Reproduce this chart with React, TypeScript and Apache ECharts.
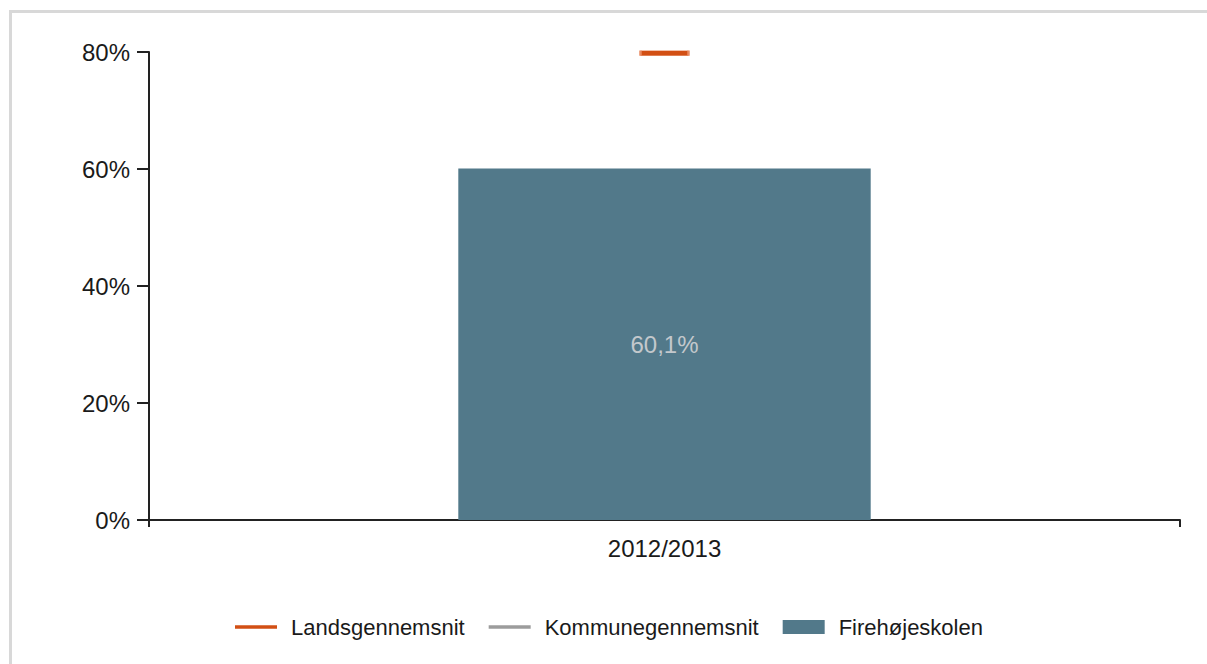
import React, { useEffect, useRef } from "react";
import * as echarts from "echarts";

const categories = ["2012/2013"];
const schoolValues = [60.1];
const nationalAvg = [79.8];
const municipalAvg: (number | null)[] = [];
const yTicks = [0, 20, 40, 60, 80];

const FONT = "'Liberation Sans', Arial, sans-serif";
const LINE_ICON = "path://M0,0H42V3.5H0Z";

export default function App() {
  const ref = useRef<HTMLDivElement>(null);
  useEffect(() => {
    if (!ref.current) return;
    const chart = echarts.init(ref.current, null, { renderer: "svg" });
    chart.setOption({
      animation: false,
      textStyle: { fontFamily: FONT },
      grid: { left: 149, right: 27, top: 52, bottom: 144 },
      legend: {
        left: 230,
        top: 611,
        itemWidth: 42,
        itemHeight: 14,
        itemGap: 24,
        textStyle: { fontSize: 22, color: "#1a1a1a", fontFamily: FONT, padding: [0, 0, 0, 9] },
        data: [
          { name: "Landsgennemsnit", icon: LINE_ICON, itemStyle: { borderWidth: 0, color: "#d24f14", opacity: 1 } },
          { name: "Kommunegennemsnit", icon: LINE_ICON, itemStyle: { borderWidth: 0, color: "#9c9c9c", opacity: 1 } },
          { name: "Firehøjeskolen", icon: "rect" },
        ],
      },
      xAxis: [
        {
          type: "category",
          data: categories,
          axisLine: { lineStyle: { color: "#222", width: 2 } },
          axisTick: { alignWithLabel: true, length: 7, lineStyle: { color: "#222", width: 2 } },
          axisLabel: { fontSize: 24, color: "#1a1a1a", margin: 16, fontFamily: FONT },
        },
        {
          type: "category",
          data: ["", ""],
          boundaryGap: false,
          position: "bottom",
          axisLine: { show: false },
          axisTick: { length: 7, lineStyle: { color: "#222", width: 2 } },
          axisLabel: { show: false },
        },
      ],
      yAxis: {
        type: "value",
        min: yTicks[0],
        max: yTicks[yTicks.length - 1],
        interval: 20,
        splitLine: { show: false },
        axisLine: { show: true, lineStyle: { color: "#222", width: 2 } },
        axisTick: { show: true, length: 12, lineStyle: { color: "#222", width: 2 } },
        axisLabel: { formatter: "{value}%", fontSize: 24, color: "#1a1a1a", margin: 19, fontFamily: FONT },
      },
      series: [
        {
          name: "Firehøjeskolen",
          type: "bar",
          data: schoolValues,
          barWidth: "40%",
          itemStyle: { color: "#52798a" },
          label: {
            show: true,
            position: "inside",
            color: "#c3c8cc",
            fontSize: 24,
            fontFamily: FONT,
            formatter: (p: any) => String(p.value).replace(".", ",") + "%",
          },
          z: 2,
        },
        {
          name: "Landsgennemsnit",
          type: "scatter",
          data: nationalAvg,
          symbol: "rect",
          symbolSize: [48, 5],
          itemStyle: { color: "#d24f14", borderColor: "#ea8a60", borderWidth: 0.8, opacity: 1 },
          z: 3,
        },
        {
          name: "Kommunegennemsnit",
          type: "scatter",
          data: municipalAvg,
          symbol: "rect",
          symbolSize: [48, 5],
          itemStyle: { color: "#9c9c9c", opacity: 1 },
          z: 3,
        },
      ],
    });
    return () => chart.dispose();
  }, []);
  return (
    <>
      <div
        style={{
          position: "fixed",
          left: 9,
          top: 10,
          width: 1198,
          height: 654,
          borderTop: "3px solid #d8d8d8",
          borderLeft: "3px solid #d8d8d8",
          boxSizing: "border-box",
          background: "#fff",
        }}
      />
      <div ref={ref} style={{ position: "fixed", left: 0, top: 0, width: 1207, height: 664 }} />
    </>
  );
}
